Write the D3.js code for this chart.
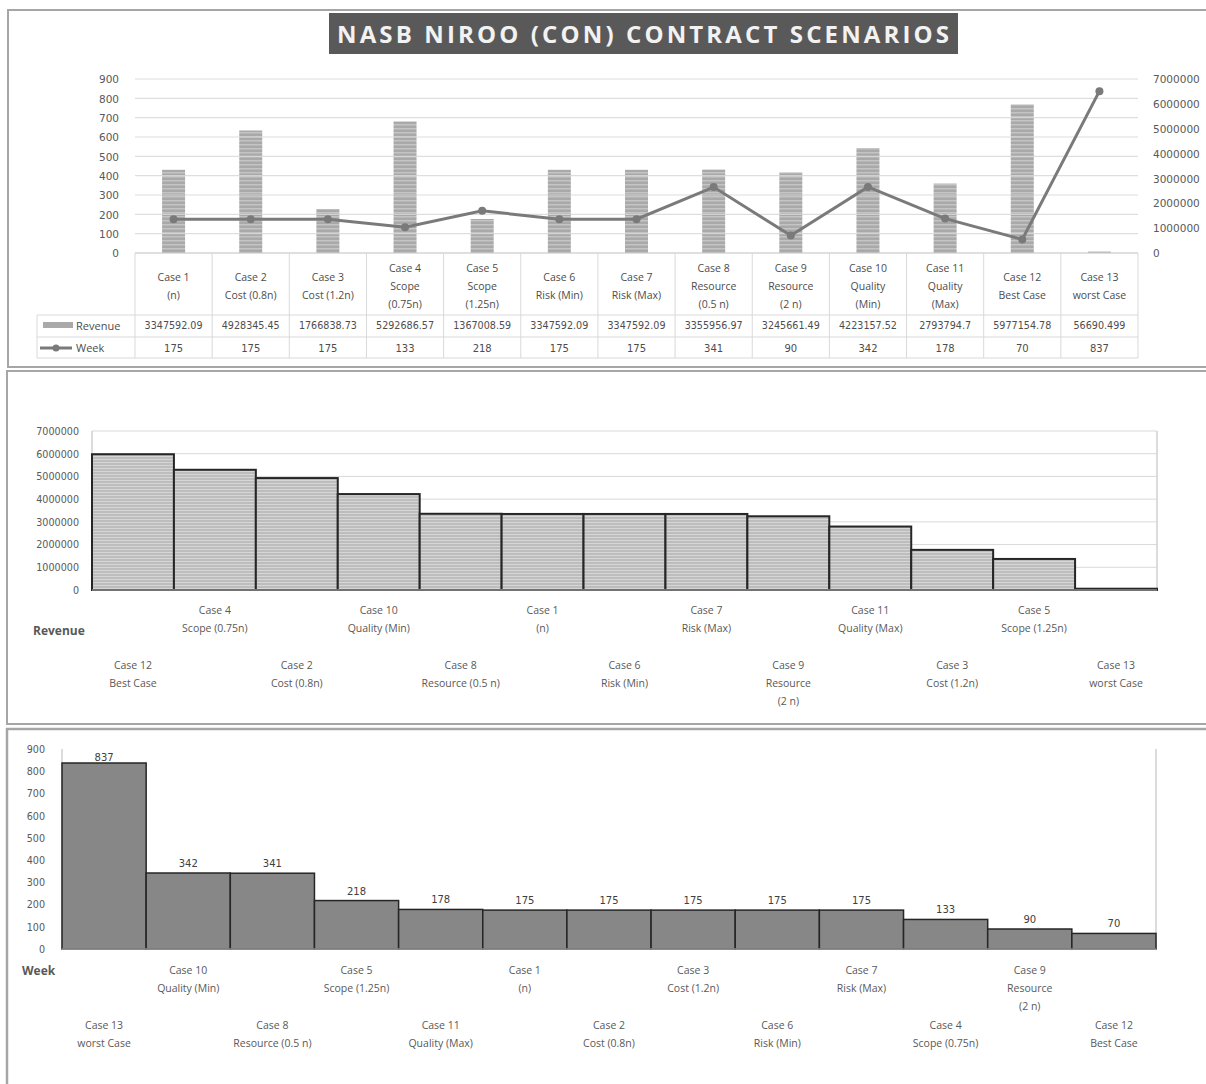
<!DOCTYPE html>
<html>
<head>
<meta charset="utf-8">
<script src="https://cdn.jsdelivr.net/npm/d3@7"></script>
<style>
  body { margin: 0; background: #fff; }
  text { font-family: "Open Sans", sans-serif; }
  .num { font-family: "DejaVu Sans", sans-serif; }
</style>
</head>
<body>
<div id="chart"></div>
<script>
// data
var caseNames = ["Case 1","Case 2","Case 3","Case 4","Case 5","Case 6","Case 7",
                 "Case 8","Case 9","Case 10","Case 11","Case 12","Case 13"];
var tableLabels = [["Case 1","(n)"],["Case 2","Cost (0.8n)"],["Case 3","Cost (1.2n)"],
  ["Case 4","Scope","(0.75n)"],["Case 5","Scope","(1.25n)"],["Case 6","Risk (Min)"],
  ["Case 7","Risk (Max)"],["Case 8","Resource","(0.5 n)"],["Case 9","Resource","(2 n)"],
  ["Case 10","Quality","(Min)"],["Case 11","Quality","(Max)"],["Case 12","Best Case"],
  ["Case 13","worst Case"]];
var axisLabels = [["Case 1","(n)"],["Case 2","Cost (0.8n)"],["Case 3","Cost (1.2n)"],
  ["Case 4","Scope (0.75n)"],["Case 5","Scope (1.25n)"],["Case 6","Risk (Min)"],
  ["Case 7","Risk (Max)"],["Case 8","Resource (0.5 n)"],["Case 9","Resource","(2 n)"],
  ["Case 10","Quality (Min)"],["Case 11","Quality (Max)"],["Case 12","Best Case"],
  ["Case 13","worst Case"]];
var revenue = [3347592.09, 4928345.45, 1766838.73, 5292686.57, 1367008.59, 3347592.09,
               3347592.09, 3355956.97, 3245661.49, 4223157.52, 2793794.7, 5977154.78, 56690.499];
var weeks = [175, 175, 175, 133, 218, 175, 175, 341, 90, 342, 178, 70, 837];
var weekTicks = [0,100,200,300,400,500,600,700,800,900];
var revenueTicks = [0,1000000,2000000,3000000,4000000,5000000,6000000,7000000];

var W = 1206, H = 1084;
var svg = d3.select("#chart").append("svg").attr("width", W).attr("height", H);
var defs = svg.append("defs");

// striped fills
var p1 = defs.append("pattern").attr("id","stripeTop").attr("patternUnits","userSpaceOnUse")
  .attr("width",4).attr("height",4);
p1.append("rect").attr("width",4).attr("height",4).attr("fill","#a9a9a9");
p1.append("rect").attr("width",4).attr("height",1.5).attr("fill","#c4c4c4");
var p2 = defs.append("pattern").attr("id","stripeRev").attr("patternUnits","userSpaceOnUse")
  .attr("width",4).attr("height",3);
p2.append("rect").attr("width",4).attr("height",3).attr("fill","#bdbdbd");
p2.append("rect").attr("width",4).attr("height",1).attr("fill","#d6d6d6");

// panel frames
var frame = "#a6a6a6";
svg.append("rect").attr("x",8).attr("y",10).attr("width",1210).attr("height",357)
  .attr("fill","none").attr("stroke",frame).attr("stroke-width",2);
svg.append("rect").attr("x",7).attr("y",371).attr("width",1210).attr("height",353)
  .attr("fill","none").attr("stroke",frame).attr("stroke-width",2);
svg.append("rect").attr("x",7).attr("y",729).attr("width",1210).attr("height",400)
  .attr("fill","none").attr("stroke",frame).attr("stroke-width",2.5);

// ---------- panel 1: combo chart with data table ----------
var x1 = d3.scaleBand().domain(caseNames).range([135, 1138]);
var yL = d3.scaleLinear().domain([0, 900]).range([253, 79]);
var yR = d3.scaleLinear().domain([0, 7000000]).range([253, 79]);

// title
var title = svg.append("g");
title.append("rect").attr("x",329).attr("y",13).attr("width",629).attr("height",41).attr("fill","#595959");
title.append("text").attr("x",643).attr("y",43).attr("text-anchor","middle")
  .attr("font-size",24).attr("font-weight","bold").attr("fill","#f2f2f2")
  .attr("textLength",612).attr("lengthAdjust","spacing")
  .text("NASB NIROO (CON) CONTRACT SCENARIOS");

svg.append("g").selectAll("rect").data(caseNames).join("rect")
  .attr("x",function(d){return x1(d) + x1.bandwidth()/2 - 11.5;})
  .attr("width",23)
  .attr("y",function(d,i){return yR(revenue[i]);})
  .attr("height",function(d,i){return 253 - yR(revenue[i]);})
  .attr("fill","url(#stripeTop)");

// gridlines show through the bars as lighter bands
svg.append("g").selectAll("line").data(weekTicks.slice(1)).join("line")
  .attr("x1",135).attr("x2",1138).attr("y1",function(d){return yL(d);}).attr("y2",function(d){return yL(d);})
  .attr("stroke","#d9d9d9").attr("stroke-width",1.2).attr("opacity",0.85);

// week line
var lineGen = d3.line().x(function(d,i){return x1(caseNames[i]) + x1.bandwidth()/2;})
  .y(function(d){return yL(d);});
svg.append("path").datum(weeks).attr("d",lineGen).attr("fill","none")
  .attr("stroke","#7a7a7a").attr("stroke-width",3);
svg.append("g").selectAll("circle").data(weeks).join("circle")
  .attr("cx",function(d,i){return x1(caseNames[i]) + x1.bandwidth()/2;})
  .attr("cy",function(d){return yL(d);}).attr("r",4).attr("fill","#7a7a7a");

var axL = svg.append("g").attr("transform","translate(122,0)")
  .call(d3.axisLeft(yL).tickValues(weekTicks).tickSize(0).tickFormat(d3.format("d")));
axL.select(".domain").remove();
axL.selectAll("text").attr("class","num").attr("font-size",10.5).attr("fill","#595959").attr("dy","0.35em");
var axR = svg.append("g").attr("transform","translate(1150,0)")
  .call(d3.axisRight(yR).tickValues(revenueTicks).tickSize(0).tickFormat(d3.format("d")));
axR.select(".domain").remove();
axR.selectAll("text").attr("class","num").attr("font-size",10.5).attr("fill","#595959").attr("dy","0.35em");

// data table
var tbl = svg.append("g");
var gridC = "#d9d9d9";
tbl.append("line").attr("x1",135).attr("x2",1138).attr("y1",253).attr("y2",253).attr("stroke","#bfbfbf");
[315, 337, 358].forEach(function(yy){
  tbl.append("line").attr("x1",37).attr("x2",1138).attr("y1",yy).attr("y2",yy).attr("stroke",gridC);
});
tbl.append("line").attr("x1",37).attr("x2",37).attr("y1",315).attr("y2",358).attr("stroke",gridC);
tbl.selectAll("line.v").data(caseNames.concat(["end"])).join("line").attr("class","v")
  .attr("x1",function(d,i){return 135 + i*x1.bandwidth();})
  .attr("x2",function(d,i){return 135 + i*x1.bandwidth();})
  .attr("y1",253).attr("y2",358).attr("stroke",gridC);

tableLabels.forEach(function(lines, i){
  var cx = x1(caseNames[i]) + x1.bandwidth()/2;
  var y0 = 286 - (lines.length - 1) * 9;
  lines.forEach(function(s, k){
    tbl.append("text").attr("x",cx).attr("y",y0 + k*18).attr("dy","0.35em")
      .attr("text-anchor","middle").attr("font-size",10.5).attr("fill","#4d4d4d").text(s);
  });
});
tbl.selectAll("text.rev").data(revenue).join("text").attr("class","num rev")
  .attr("x",function(d,i){return x1(caseNames[i]) + x1.bandwidth()/2;})
  .attr("y",326).attr("dy","0.35em").attr("text-anchor","middle")
  .attr("font-size",9.6).attr("fill","#4d4d4d").text(function(d){return String(d);});
tbl.selectAll("text.wk").data(weeks).join("text").attr("class","num wk")
  .attr("x",function(d,i){return x1(caseNames[i]) + x1.bandwidth()/2;})
  .attr("y",348).attr("dy","0.35em").attr("text-anchor","middle")
  .attr("font-size",10).attr("fill","#4d4d4d").text(function(d){return d;});

// legend keys
tbl.append("rect").attr("x",43).attr("y",322).attr("width",30).attr("height",6).attr("fill","#a9a9a9");
tbl.append("text").attr("x",76).attr("y",326).attr("dy","0.35em").attr("font-size",11)
  .attr("fill","#4d4d4d").text("Revenue");
tbl.append("line").attr("x1",40).attr("x2",72).attr("y1",348).attr("y2",348)
  .attr("stroke","#7a7a7a").attr("stroke-width",3);
tbl.append("circle").attr("cx",56).attr("cy",348).attr("r",3.5).attr("fill","#7a7a7a");
tbl.append("text").attr("x",76).attr("y",348).attr("dy","0.35em").attr("font-size",11)
  .attr("fill","#4d4d4d").text("Week");

// ---------- helper for the two sorted bar charts ----------
function sortedChart(opts) {
  var order = d3.range(caseNames.length).sort(function(a, b){ return opts.values[b] - opts.values[a]; });
  var keys = order.map(function(i){ return caseNames[i]; });
  var x = d3.scaleBand().domain(keys).range([opts.left, opts.right]);
  var y = d3.scaleLinear().domain(opts.domain).range([opts.bottom, opts.top]);
  var g = svg.append("g");

  if (opts.grid) {
    g.selectAll("line.grid").data(opts.ticks.slice(1)).join("line").attr("class","grid")
      .attr("x1",opts.left).attr("x2",opts.right)
      .attr("y1",function(d){return y(d);}).attr("y2",function(d){return y(d);})
      .attr("stroke","#d9d9d9");
  }
  g.append("line").attr("x1",opts.right).attr("x2",opts.right).attr("y1",opts.top).attr("y2",opts.bottom)
    .attr("stroke","#d0d0d0").attr("stroke-width",1.5);
  g.append("line").attr("x1",opts.left).attr("x2",opts.left).attr("y1",opts.top).attr("y2",opts.bottom)
    .attr("stroke","#d0d0d0").attr("stroke-width",1.5);

  g.selectAll("rect.bar").data(order).join("rect").attr("class","bar")
    .attr("x",function(i){return x(caseNames[i]);})
    .attr("width",x.bandwidth())
    .attr("y",function(i){return y(opts.values[i]);})
    .attr("height",function(i){return opts.bottom - y(opts.values[i]);})
    .attr("fill",opts.fill).attr("stroke","#262626").attr("stroke-width",opts.stroke);

  g.append("line").attr("x1",opts.left).attr("x2",opts.right).attr("y1",opts.bottom).attr("y2",opts.bottom)
    .attr("stroke","#bfbfbf");

  var ax = g.append("g").attr("transform","translate(" + opts.axisX + ",0)")
    .call(d3.axisLeft(y).tickValues(opts.ticks).tickSize(0).tickFormat(d3.format("d")));
  ax.select(".domain").remove();
  ax.selectAll("text").attr("class","num").attr("font-size",opts.tickSize).attr("fill","#595959").attr("dy","0.35em");

  if (opts.dataLabels) {
    g.selectAll("text.dl").data(order).join("text").attr("class","num dl")
      .attr("x",function(i){return x(caseNames[i]) + x.bandwidth()/2;})
      .attr("y",function(i){return Math.max(y(opts.values[i]) - 6, opts.top + 12);})
      .attr("text-anchor","middle").attr("font-size",10).attr("fill","#404040")
      .text(function(i){return opts.values[i];});
  }

  order.forEach(function(i, k){
    var cx = x(caseNames[i]) + x.bandwidth()/2;
    var y0 = (k % 2 === 0) ? opts.lowRow : opts.highRow;
    axisLabels[i].forEach(function(s, j){
      g.append("text").attr("x",cx).attr("y",y0 + j*18).attr("dy","0.35em")
        .attr("text-anchor","middle").attr("font-size",10.5).attr("fill","#595959").text(s);
    });
  });

  g.append("text").attr("x",opts.titleX).attr("y",opts.titleY).attr("dy","0.35em")
    .attr("font-size",12).attr("font-weight","bold").attr("fill","#595959").text(opts.title);
}

// ---------- panel 2: revenue sorted ----------
sortedChart({
  values: revenue, domain: [0, 7000000], ticks: revenueTicks,
  left: 92, right: 1157, top: 431, bottom: 590, axisX: 82,
  fill: "url(#stripeRev)", stroke: 2, grid: true, tickSize: 9.6, dataLabels: false,
  highRow: 610, lowRow: 665, title: "Revenue", titleX: 33, titleY: 631
});

// ---------- panel 3: weeks sorted ----------
sortedChart({
  values: weeks, domain: [0, 900], ticks: weekTicks,
  left: 62, right: 1156, top: 749, bottom: 949, axisX: 48,
  fill: "#878787", stroke: 1.5, grid: false, tickSize: 9.6, dataLabels: true,
  highRow: 970, lowRow: 1025, title: "Week", titleX: 22, titleY: 971
});
</script>
</body>
</html>
